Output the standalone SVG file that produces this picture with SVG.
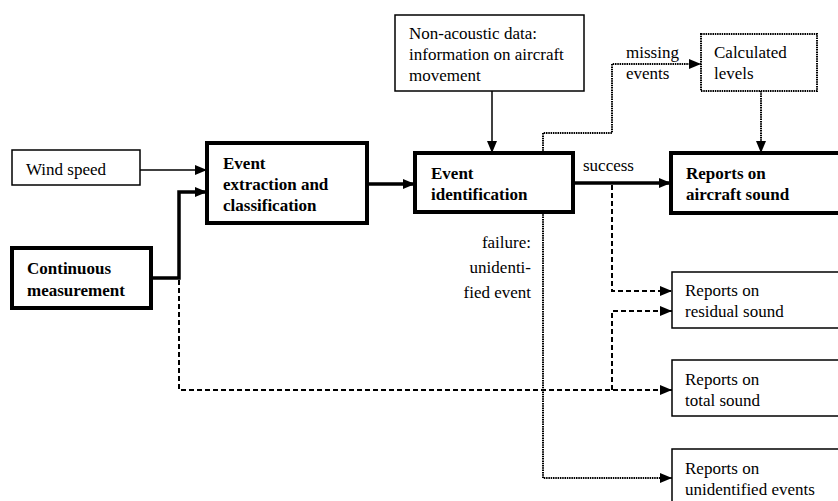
<svg xmlns="http://www.w3.org/2000/svg" width="838" height="501" viewBox="0 0 838 501">
<style>
text{font-family:'Liberation Serif','Times New Roman','DejaVu Serif',serif;font-size:17px;fill:#000}
.b{font-weight:bold}
.thin{fill:#fff;stroke:#000;stroke-width:1.5}
.thick{fill:#fff;stroke:#000;stroke-width:4}
.dot{fill:#fff;stroke:#000;stroke-width:2;stroke-dasharray:1.5 0.8}
.c{fill:none;stroke:#000}
.c1{stroke-width:1.5}
.c3{stroke-width:3.5}
.cd{stroke-width:2;stroke-dasharray:1.5 0.8}
.cs{stroke-width:2;stroke-dasharray:5 3}
</style>
<defs>
<marker id="ah" markerUnits="userSpaceOnUse" markerWidth="12" markerHeight="12" viewBox="0 0 12 12" refX="12" refY="6" orient="auto">
<path d="M0,1 L12,6 L0,11 Z" fill="#000"/>
</marker>
</defs>
<rect width="838" height="501" fill="#fff"/>
<g id="connectors">
<path class="c c1" d="M140,170 H207" marker-end="url(#ah)"/>
<path class="c c3" d="M151,278 H179 V192 H207" marker-end="url(#ah)"/>
<path class="c c3" d="M367,184 H415" marker-end="url(#ah)"/>
<path class="c c1" d="M492,91 V153" marker-end="url(#ah)"/>
<path class="c c3" d="M573,183 H671" marker-end="url(#ah)"/>
<path class="c cd" d="M761,91 V153" marker-end="url(#ah)"/>
<path class="c cd" d="M543,153 V133 H612 V64 H701" marker-end="url(#ah)"/>
<path class="c cd" d="M543,212 V478 H672" marker-end="url(#ah)"/>
<path class="c cs" d="M612,185 V291 H672" marker-end="url(#ah)"/>
<path class="c cs" d="M179,280 V390 H672" marker-end="url(#ah)"/>
<path class="c cs" d="M612,390 V311 H672" marker-end="url(#ah)"/>
</g>
<g font-family="Liberation Serif, serif" font-size="17">
<g id="wind">
<rect class="thin" x="12" y="150" width="128" height="35"/>
<text x="26" y="175">Wind speed</text>
</g>
<g id="extraction">
<rect class="thick" x="207" y="143" width="160" height="80"/>
<text class="b" x="223" y="169">Event</text>
<text class="b" x="223" y="190">extraction and</text>
<text class="b" x="223" y="211">classification</text>
</g>
<g id="continuous">
<rect class="thick" x="12" y="248" width="139" height="60"/>
<text class="b" x="27" y="274">Continuous</text>
<text class="b" x="27" y="296">measurement</text>
</g>
<g id="nonacoustic">
<rect class="thin" x="395" y="15" width="189" height="76"/>
<text x="409" y="39">Non-acoustic data:</text>
<text x="409" y="60">information on aircraft</text>
<text x="409" y="81">movement</text>
</g>
<g id="identification">
<rect class="thick" x="415" y="153" width="158" height="59"/>
<text class="b" x="431" y="179">Event</text>
<text class="b" x="431" y="200">identification</text>
</g>
<g id="labels">
<text x="583" y="171">success</text>
<text x="626" y="58">missing</text>
<text x="626" y="79">events</text>
<text x="531" y="248" text-anchor="end">failure:</text>
<text x="531" y="273" text-anchor="end">unidenti-</text>
<text x="531" y="298" text-anchor="end">fied event</text>
</g>
<g id="calculated">
<rect class="dot" x="701" y="34" width="116" height="57"/>
<text x="714" y="58">Calculated</text>
<text x="714" y="79">levels</text>
</g>
<g id="aircraft">
<rect class="thick" x="671" y="153" width="180" height="60"/>
<text class="b" x="686" y="179">Reports on</text>
<text class="b" x="686" y="200">aircraft sound</text>
</g>
<g id="residual">
<rect class="thin" x="672" y="272" width="180" height="56"/>
<text x="685" y="296">Reports on</text>
<text x="685" y="317">residual sound</text>
</g>
<g id="total">
<rect class="thin" x="672" y="360" width="180" height="56"/>
<text x="685" y="385">Reports on</text>
<text x="685" y="406">total sound</text>
</g>
<g id="unidentified">
<rect class="thin" x="672" y="449" width="180" height="70"/>
<text x="685" y="474">Reports on</text>
<text x="685" y="495">unidentified events</text>
</g>
</g>
</svg>
